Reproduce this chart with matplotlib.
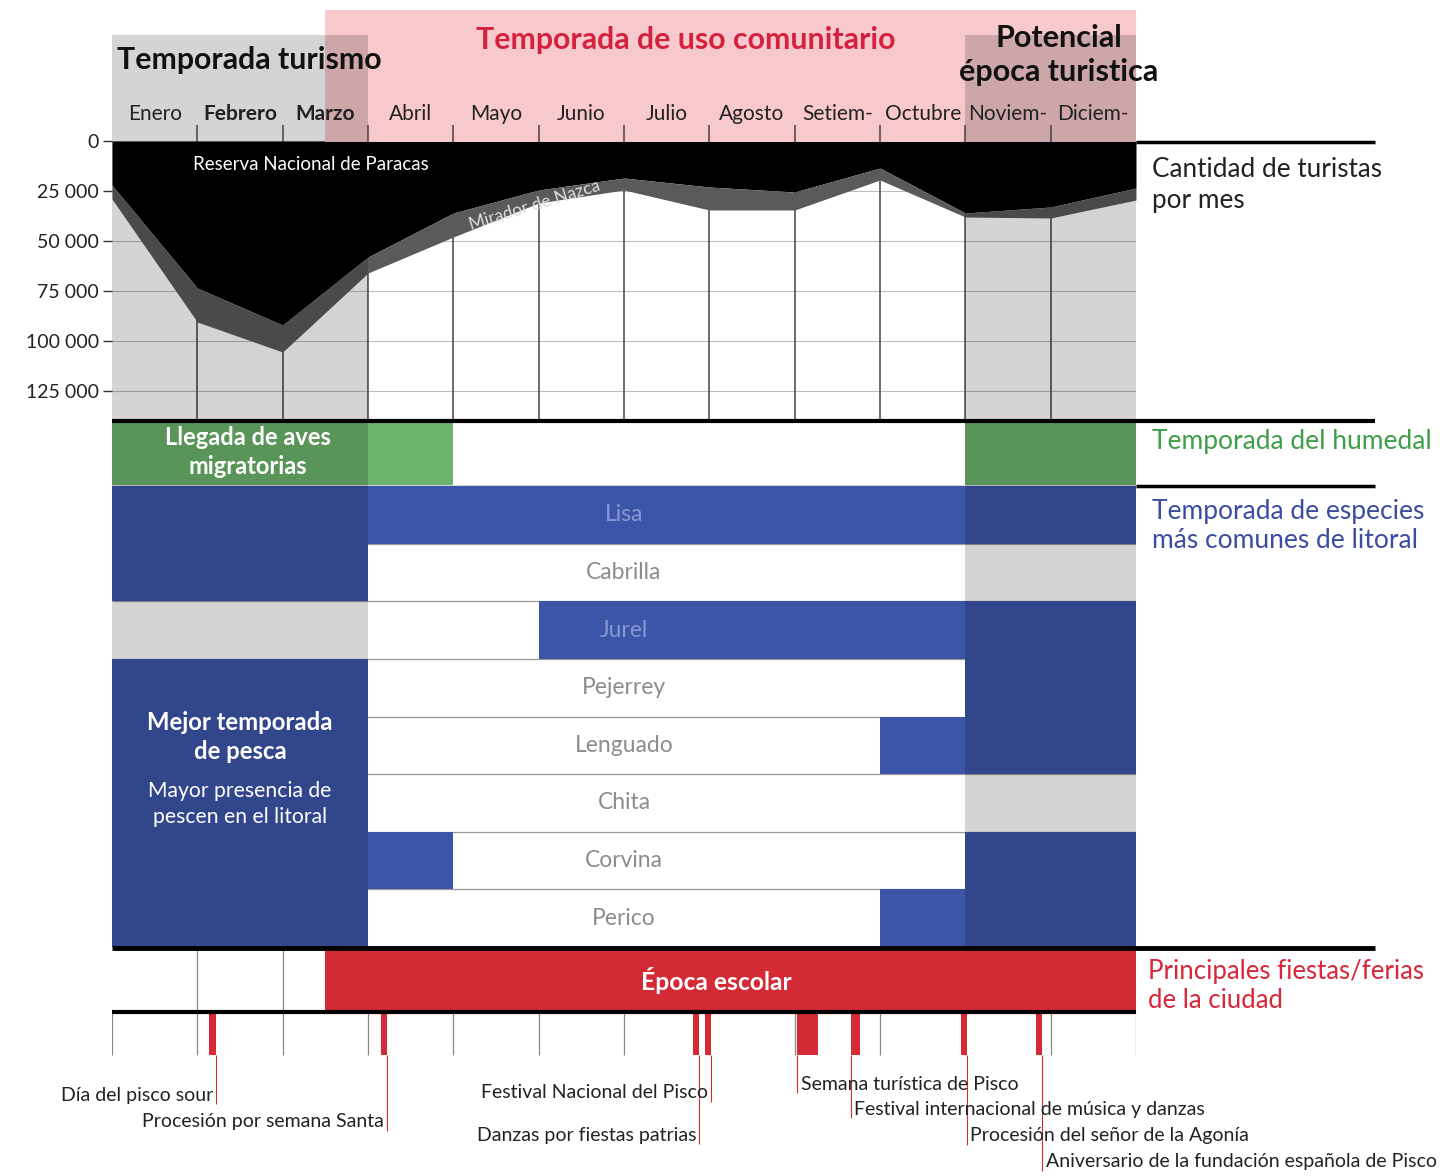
import numpy as np
import matplotlib.pyplot as plt
from matplotlib.patches import Rectangle

plt.rcParams['font.family'] = ['Lato', 'DejaVu Sans']

W, H = 1447, 1176

# ---- data ----
months = ['Enero', 'Febrero', 'Marzo', 'Abril', 'Mayo', 'Junio', 'Julio',
          'Agosto', 'Setiem-', 'Octubre', 'Noviem-', 'Diciem-']
bold_months = ['Febrero', 'Marzo']

# tourists per month, read at the month boundaries (13 points)
reserva = [22000, 73500, 92000, 58000, 36000, 24500, 18500, 23000, 25500, 13500, 36000, 33000, 23500]
total   = [29000, 90500, 105500, 66000, 48000, 31000, 24500, 34500, 34500, 19500, 38000, 38500, 29500]
y_ticks = [0, 25000, 50000, 75000, 100000, 125000]

tourist_season = [(0, 3), (10, 12)]   # grey columns (month start, month end)
community_season = (2.5, 12)
school_season = (2.5, 12)

aves = [1, 1, 1, 1, 0, 0, 0, 0, 0, 0, 1, 1]

fish_names = ['Lisa', 'Cabrilla', 'Jurel', 'Pejerrey', 'Lenguado', 'Chita', 'Corvina', 'Perico']
fish_lisa     = [1, 1, 1, 1, 1, 1, 1, 1, 1, 1, 1, 1]
fish_cabrilla = [1, 1, 1, 0, 0, 0, 0, 0, 0, 0, 0, 0]
fish_jurel    = [0, 0, 0, 0, 0, 1, 1, 1, 1, 1, 1, 1]
fish_pejerrey = [1, 1, 1, 0, 0, 0, 0, 0, 0, 0, 1, 1]
fish_lenguado = [1, 1, 1, 0, 0, 0, 0, 0, 0, 1, 1, 1]
fish_chita    = [1, 1, 1, 0, 0, 0, 0, 0, 0, 0, 0, 0]
fish_corvina  = [1, 1, 1, 1, 0, 0, 0, 0, 0, 0, 1, 1]
fish_perico   = [1, 1, 1, 0, 0, 0, 0, 0, 0, 1, 1, 1]
fish_flags = [fish_lisa, fish_cabrilla, fish_jurel, fish_pejerrey,
              fish_lenguado, fish_chita, fish_corvina, fish_perico]

fest_names = ['Día del pisco sour', 'Procesión por semana Santa', 'Danzas por fiestas patrias',
              'Festival Nacional del Pisco', 'Semana turística de Pisco',
              'Festival internacional de música y danzas', 'Procesión del señor de la Agonía',
              'Aniversario de la fundación española de Pisco']
fest_start = [1.14, 3.15, 6.81, 6.95, 8.03, 8.66, 9.95, 10.83]
fest_end   = [1.22, 3.22, 6.88, 7.02, 8.27, 8.77, 10.02, 10.90]

# label layout for the festivals (pixel rows, text side, leader anchor)
fest_label_y = [1095, 1122, 1135, 1093, 1084, 1109, 1136, 1162]
fest_label_side = ['right', 'right', 'right', 'right', 'left', 'left', 'left', 'left']
fest_leader_at = ['end', 'end', 'end', 'end', 'start', 'start', 'end', 'end']

# ---- colours ----
PINK = '#f7c8cc'
RED = '#d42a36'
RED_T = '#d4213d'
GREEN = '#6cb46c'
BLUE = '#3b55a8'
SHADE = 0.17


def runs(flags):
    out, start = [], None
    for i, f in enumerate(list(flags) + [0]):
        if f and start is None:
            start = i
        elif not f and start is not None:
            out.append((start, i - start))
            start = None
    return out


MPX = 1024 / 12.0


def px(x):
    # pixel column -> month units
    return (x - 112) / MPX


fig = plt.figure(figsize=(W / 100, H / 100), dpi=100)
fig.patch.set_facecolor('white')

# main layout axes: x in months, y in pixel rows from the top
ax = fig.add_axes([112 / W, 0, 1024 / W, 1])
ax.set_xlim(0, 12)
ax.set_ylim(H, 0)
ax.axis('off')
ax.patch.set_alpha(0)
ax.set_zorder(2)

# tourist axes
ax_t = fig.add_axes([112 / W, (H - 420) / H, 1024 / W, 279 / H])
ax_t.set_zorder(1)
ax_t.set_xlim(0, 12)
ax_t.set_ylim(139500, 0)
xb = np.arange(13)
for yv in y_ticks[1:]:
    ax_t.axhline(yv, color='#bdbdbd', lw=0.8, zorder=1)
for m in range(1, 12):
    ax_t.axvline(m, color='#444444', lw=1.1, zorder=1)
ax_t.fill_between(xb, 0, reserva, color='black', lw=0, zorder=2)
ax_t.fill_between(xb, reserva, total, color='#5a5a5a', lw=0, zorder=2)
for a, b in tourist_season:
    ax_t.axvspan(a, b, color='black', alpha=SHADE, lw=0, zorder=3)
for s in ax_t.spines.values():
    s.set_visible(False)
ax_t.set_xticks([])
ax_t.set_yticks(y_ticks, labels=[f'{v:,}'.replace(',', ' ') for v in y_ticks])
ax_t.tick_params(axis='y', length=6.5, width=1, color='#333333', labelsize=14, pad=3,
                 labelcolor='#222222')
ax_t.text(px(311), 11500, 'Reserva Nacional de Paracas', color='white', fontsize=13.5,
          ha='center', va='center', zorder=4)
ax_t.text(px(535), 32000, 'Mirador de Nazca', color='#dddddd', fontsize=12.5,
          ha='center', va='center', rotation=17, zorder=4)

# ---- header ----
ax.add_patch(Rectangle((community_season[0], 10), community_season[1] - community_season[0], 132,
                       color=PINK, lw=0, zorder=1))
for a, b in tourist_season:
    ax.add_patch(Rectangle((a, 35), b - a, 107, color='black', alpha=SHADE, lw=0, zorder=5))
ax.vlines(range(1, 12), 125, 142, color='#444444', lw=1.1, zorder=6)
for i, name in enumerate(months):
    ax.text(i + 0.5, 114, name, ha='center', va='center', fontsize=15, color='#222222',
            fontweight='bold' if name in bold_months else 'normal', zorder=7)
ax.text(px(117), 60, 'Temporada turismo', ha='left', va='center', fontsize=21.8,
        fontweight='bold', color='#111111', zorder=7)
ax.text(px(686), 40, 'Temporada de uso comunitario', ha='center', va='center', fontsize=21.8,
        fontweight='bold', color=RED_T, zorder=7)
ax.text(px(1059), 55, 'Potencial\népoca turistica', ha='center', va='center', fontsize=22,
        fontweight='bold', color='#111111', linespacing=1.3, zorder=7)

# ---- birds ----
for s, w in runs(aves):
    ax.add_patch(Rectangle((s, 421), w, 64, color=GREEN, lw=0, zorder=3))
ax.text(px(248), 452, 'Llegada de aves\nmigratorias', ha='center', va='center', fontsize=17,
        fontweight='bold', color='white', linespacing=1.3, zorder=7)

# ---- fish ----
top, bot = 486, 947
rh = (bot - top) / len(fish_names)
for k in range(1, len(fish_names)):
    ax.hlines(top + k * rh, 0, 12, color='#9a9a9a', lw=0.9, zorder=2)
ax.hlines(485.5, 0, 12, color='#333333', lw=1.0, zorder=2)
for k, (name, flags) in enumerate(zip(fish_names, fish_flags)):
    y0 = top + k * rh
    for s, w in runs(flags):
        ax.add_patch(Rectangle((s, y0), w, rh, color=BLUE, lw=0, zorder=3))
    tc = '#8798d2' if flags[6] else '#8c8c8c'
    ax.text(6.0, y0 + rh / 2, name, ha='center', va='center', fontsize=16.5, color=tc, zorder=7)
for a, b in tourist_season:
    ax.add_patch(Rectangle((a, 421), b - a, bot - 421, color='black', alpha=SHADE, lw=0, zorder=5))
ax.text(px(240), 737, 'Mejor temporada\nde pesca', ha='center', va='center', fontsize=17.2,
        fontweight='bold', color='white', linespacing=1.35, zorder=7)
ax.text(px(240), 804, 'Mayor presencia de\npescen en el litoral', ha='center', va='center',
        fontsize=15.2, color='white', linespacing=1.35, zorder=7)

# ---- school ----
ax.add_patch(Rectangle((school_season[0], 948), school_season[1] - school_season[0], 64,
                       color=RED, lw=0, zorder=3))
ax.vlines([1, 2], 948, 1012, color='#888888', lw=0.9, zorder=2)
ax.text(px(716), 980, 'Época escolar', ha='center', va='center', fontsize=17.7,
        fontweight='bold', color='white', zorder=7)

# ---- festivals ----
ax.vlines(range(0, 13), 1013, 1055, color='#888888', lw=0.9, zorder=2)
for name, s, e, ly, side, at in zip(fest_names, fest_start, fest_end, fest_label_y,
                                    fest_label_side, fest_leader_at):
    ax.add_patch(Rectangle((s, 1013), e - s, 42, color=RED, lw=0, zorder=3))
    lx = e if at == 'end' else s
    ax.vlines(lx, 1055, ly + 9, color=RED, lw=0.8, zorder=3)
    if side == 'right':
        ax.text(lx - 0.03, ly, name, ha='right', va='center', fontsize=14, color='#222222',
                clip_on=False, zorder=7)
    else:
        ax.text(lx + 0.04, ly, name, ha='left', va='center', fontsize=14, color='#222222',
                clip_on=False, zorder=7)

# ---- black separators ----
xr = px(1375)
ax.hlines(142, 12, xr, color='black', lw=2.5, clip_on=False, zorder=8)
ax.hlines(420.5, 0, xr, color='black', lw=3, clip_on=False, zorder=8)
ax.hlines(485.5, 12, xr, color='black', lw=2.5, clip_on=False, zorder=8)
ax.hlines(947.5, 0, xr, color='black', lw=3.5, clip_on=False, zorder=8)
ax.hlines(1012, 0, 12, color='black', lw=3, clip_on=False, zorder=8)

# ---- right-hand labels ----
ax.text(px(1152), 185, 'Cantidad de turistas\npor mes', ha='left', va='center', fontsize=18.8,
        color='#222222', linespacing=1.3, clip_on=False)
ax.text(px(1152), 442, 'Temporada del humedal', ha='left', va='center', fontsize=19,
        color='#3e9e4a', clip_on=False)
ax.text(px(1152), 526, 'Temporada de especies\nmás comunes de litoral', ha='left', va='center',
        fontsize=19, color='#3c4ca0', linespacing=1.25, clip_on=False)
ax.text(px(1148), 986, 'Principales fiestas/ferias\nde la ciudad', ha='left', va='center',
        fontsize=18.5, color='#d9263a', linespacing=1.25, clip_on=False)

fig.savefig('out.png', dpi=100)
